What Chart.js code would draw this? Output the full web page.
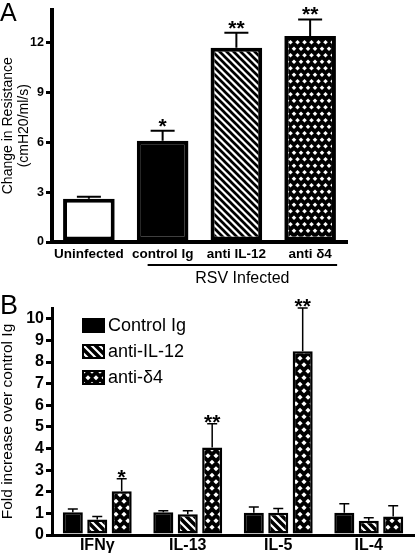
<!DOCTYPE html>
<html lang="en">
<head>
<meta charset="UTF-8">
<title>RSV airway resistance and cytokines</title>
<script src="https://cdn.jsdelivr.net/npm/chart.js"></script>
<style>
    body {
        margin: 0;
        width: 416px;
        height: 559px;
        position: relative;
        overflow: hidden;
        background: #fff;
        font-family: 'Liberation Sans', Arial, sans-serif;
    }
    canvas { position: absolute; left: 0; }
    #chartA { top: 0; }
    #chartB { top: 290px; }
    .letter {
        position: absolute;
        left: 0;
        line-height: 1;
        color: #000;
    }
</style>
</head>
<body>
<canvas id="chartA" width="416" height="290"></canvas>
<canvas id="chartB" width="416" height="269"></canvas>
<div class="letter" style="top:0px;font-size:25px">A</div>
<div class="letter" style="top:292px;font-size:27px">B</div>
<script>
// panel A - airway resistance
const catsA = ['Uninfected', 'control Ig', 'anti IL-12', 'anti δ4'];
const resistA = [2.6, 6.1, 11.7, 12.4];
const semA = [0.12, 0.6, 0.9, 1.0];
const sigA = ['', '*', '**', '**'];
const ticksA = [0, 3, 6, 9, 12];
const groupName = 'RSV Infected';
const groupFirst = 1, groupLast = 3;

// panel B - cytokines
const cytokines = ['IFNγ', 'IL-13', 'IL-5', 'IL-4'];
const seriesB = ['Control Ig', 'anti-IL-12', 'anti-δ4'];
const foldControl = [1.05, 1.05, 1.03, 1.03];
const foldAntiIL12 = [0.72, 0.96, 1.03, 0.66];
const foldAntiD4 = [2.02, 4.05, 8.5, 0.86];
const semControl = [0.15, 0.07, 0.27, 0.42];
const semAntiIL12 = [0.13, 0.16, 0.19, 0.14];
const semAntiD4 = [0.58, 1.1, 2.0, 0.49];
const sigAntiD4 = ['*', '**', '**', ''];
const ticksB = [0, 1, 2, 3, 4, 5, 6, 7, 8, 9, 10];

Chart.defaults.font.family = "'Liberation Sans', Arial, sans-serif";
Chart.defaults.color = '#000';

// fill patterns
function stripes(size, width) {
    const c = document.createElement('canvas');
    c.width = c.height = size;
    const g = c.getContext('2d');
    g.fillStyle = '#fff';
    g.fillRect(0, 0, size, size);
    g.strokeStyle = '#000';
    g.lineWidth = width;
    g.beginPath();
    for (const o of [-size, 0, size]) {
        g.moveTo(o - 2, -2);
        g.lineTo(o + size + 2, size + 2);
    }
    g.stroke();
    return g.createPattern(c, 'repeat');
}

function diamonds(w, h, r) {
    const c = document.createElement('canvas');
    c.width = w;
    c.height = h;
    const g = c.getContext('2d');
    g.fillStyle = '#000';
    g.fillRect(0, 0, w, h);
    g.fillStyle = '#fff';
    const pts = [[w / 2, h / 4], [0, h * 3 / 4], [w, h * 3 / 4]];
    pts.forEach(([x, y]) => {
        g.beginPath();
        g.moveTo(x, y - r);
        g.lineTo(x + r, y);
        g.lineTo(x, y + r);
        g.lineTo(x - r, y);
        g.closePath();
        g.fill();
    });
    return g.createPattern(c, 'repeat');
}

// error bars + significance marks
const errorBars = {
    id: 'errorBars',
    afterDatasetsDraw(chart, args, opts) {
        const ctx = chart.ctx;
        const y = chart.scales.y;
        chart.data.datasets.forEach((ds, di) => {
            const meta = chart.getDatasetMeta(di);
            meta.data.forEach((bar, i) => {
                const top = y.getPixelForValue(ds.data[i]);
                const end = y.getPixelForValue(ds.data[i] + ds.errors[i]);
                ctx.save();
                ctx.strokeStyle = '#000';
                ctx.lineWidth = opts.lineWidth;
                ctx.beginPath();
                ctx.moveTo(bar.x, top);
                ctx.lineTo(bar.x, end);
                ctx.moveTo(bar.x - opts.cap / 2, end);
                ctx.lineTo(bar.x + opts.cap / 2, end);
                ctx.stroke();
                if (ds.marks && ds.marks[i]) {
                    ctx.fillStyle = '#000';
                    ctx.font = 'bold 21px "Liberation Sans", Arial, sans-serif';
                    ctx.textAlign = 'center';
                    ctx.textBaseline = 'alphabetic';
                    ctx.fillText(ds.marks[i], bar.x, end + opts.markShift);
                }
                ctx.restore();
            });
        });
    }
};

// bracket under the infected groups
const groupLabel = {
    id: 'groupLabel',
    afterDraw(chart) {
        const x = chart.scales.x;
        const ctx = chart.ctx;
        const x1 = x.getPixelForValue(groupFirst) - 15;
        const x2 = x.getPixelForValue(groupLast) + 27;
        ctx.save();
        ctx.strokeStyle = '#000';
        ctx.lineWidth = 2;
        ctx.beginPath();
        ctx.moveTo(x1, 265);
        ctx.lineTo(x2, 265);
        ctx.stroke();
        ctx.fillStyle = '#000';
        ctx.font = '16px "Liberation Sans", Arial, sans-serif';
        ctx.textAlign = 'center';
        ctx.textBaseline = 'middle';
        ctx.fillText(groupName, (x1 + x2) / 2, 279);
        ctx.restore();
    }
};

// legend boxes inside the plot area
const boxLegend = {
    id: 'boxLegend',
    afterDraw(chart) {
        const ctx = chart.ctx;
        const area = chart.chartArea;
        chart.data.datasets.forEach((ds, i) => {
            const bx = area.left + 30;
            const by = area.top + 10 + i * 26;
            ctx.save();
            ctx.fillStyle = ds.backgroundColor;
            ctx.fillRect(bx, by, 23, 15);
            ctx.strokeStyle = '#000';
            ctx.lineWidth = 2;
            ctx.strokeRect(bx + 1, by + 1, 21, 13);
            ctx.fillStyle = '#000';
            ctx.font = '18px "Liberation Sans", Arial, sans-serif';
            ctx.textBaseline = 'middle';
            ctx.fillText(ds.label, bx + 26, by + 8);
            ctx.restore();
        });
    }
};

// Panel A
new Chart(document.getElementById('chartA'), {
    type: 'bar',
    data: {
        labels: catsA,
        datasets: [{
            data: resistA,
            errors: semA,
            marks: sigA,
            backgroundColor: ['#fff', '#000', stripes(7, 2.7), diamonds(7, 13, 2.3)],
            borderColor: '#000',
            borderWidth: 4,
            borderSkipped: false,
            barPercentage: 0.7,
            categoryPercentage: 1
        }]
    },
    options: {
        responsive: false,
        animation: false,
        layout: { padding: { top: 4, right: 69, left: 0, bottom: 0 } },
        plugins: {
            legend: { display: false },
            tooltip: { enabled: false },
            errorBars: { lineWidth: 2, cap: 24, markShift: 2 }
        },
        scales: {
            x: {
                grid: { display: false, drawTicks: false },
                border: { display: true, width: 4, color: '#000' },
                ticks: {
                    font: { size: 13.5, weight: 'bold' },
                    padding: 4,
                    maxRotation: 0,
                    autoSkip: false
                },
                afterFit: s => { s.height = 48; }
            },
            y: {
                min: 0,
                max: 14,
                grid: { display: true, drawOnChartArea: false, drawTicks: true, tickLength: 6, lineWidth: 3, color: '#000' },
                border: { display: true, width: 4, color: '#000' },
                ticks: { font: { size: 12.5, weight: 'bold' }, padding: 2 },
                afterBuildTicks: s => { s.ticks = ticksA.map(v => ({ value: v })); },
                title: {
                    display: true,
                    text: ['Change in Resistance', '(cmH20/ml/s)'],
                    font: { size: 14, lineHeight: 1.15 },
                    padding: 0
                },
                afterFit: s => { s.width = 52; }
            }
        }
    },
    plugins: [errorBars, groupLabel]
});

// Panel B
const fillsB = ['#000', stripes(8, 3.5), diamonds(8, 13, 2.6)];
const valuesB = [foldControl, foldAntiIL12, foldAntiD4];
const errorsB = [semControl, semAntiIL12, semAntiD4];
const marksB = [[], [], sigAntiD4];

new Chart(document.getElementById('chartB'), {
    type: 'bar',
    data: {
        labels: cytokines,
        datasets: seriesB.map((name, i) => ({
            label: name,
            data: valuesB[i],
            errors: errorsB[i],
            marks: marksB[i],
            backgroundColor: fillsB[i],
            borderColor: '#000',
            borderWidth: 2.5,
            borderSkipped: false,
            barPercentage: 0.82,
            categoryPercentage: 0.81
        }))
    },
    options: {
        responsive: false,
        animation: false,
        layout: { padding: { top: 18, right: 2, left: 0, bottom: 0 } },
        plugins: {
            legend: { display: false },
            tooltip: { enabled: false },
            errorBars: { lineWidth: 1.5, cap: 10, markShift: 5 }
        },
        scales: {
            x: {
                grid: { display: false, drawTicks: false },
                border: { display: true, width: 3, color: '#000' },
                ticks: {
                    font: { size: 16, weight: 'bold' },
                    padding: 1,
                    maxRotation: 0,
                    autoSkip: false
                },
                afterFit: s => { s.height = 24; }
            },
            y: {
                min: 0,
                max: 10.5,
                grid: { display: true, drawOnChartArea: false, drawTicks: true, tickLength: 6, lineWidth: 3, color: '#000' },
                border: { display: true, width: 3, color: '#000' },
                ticks: { font: { size: 16, weight: 'bold' }, padding: 2 },
                afterBuildTicks: s => { s.ticks = ticksB.map(v => ({ value: v })); },
                title: {
                    display: true,
                    text: 'Fold increase over control Ig',
                    font: { size: 15.5, lineHeight: 1 },
                    padding: 0
                },
                afterFit: s => { s.width = 52; }
            }
        }
    },
    plugins: [errorBars, boxLegend]
});
</script>
</body>
</html>
